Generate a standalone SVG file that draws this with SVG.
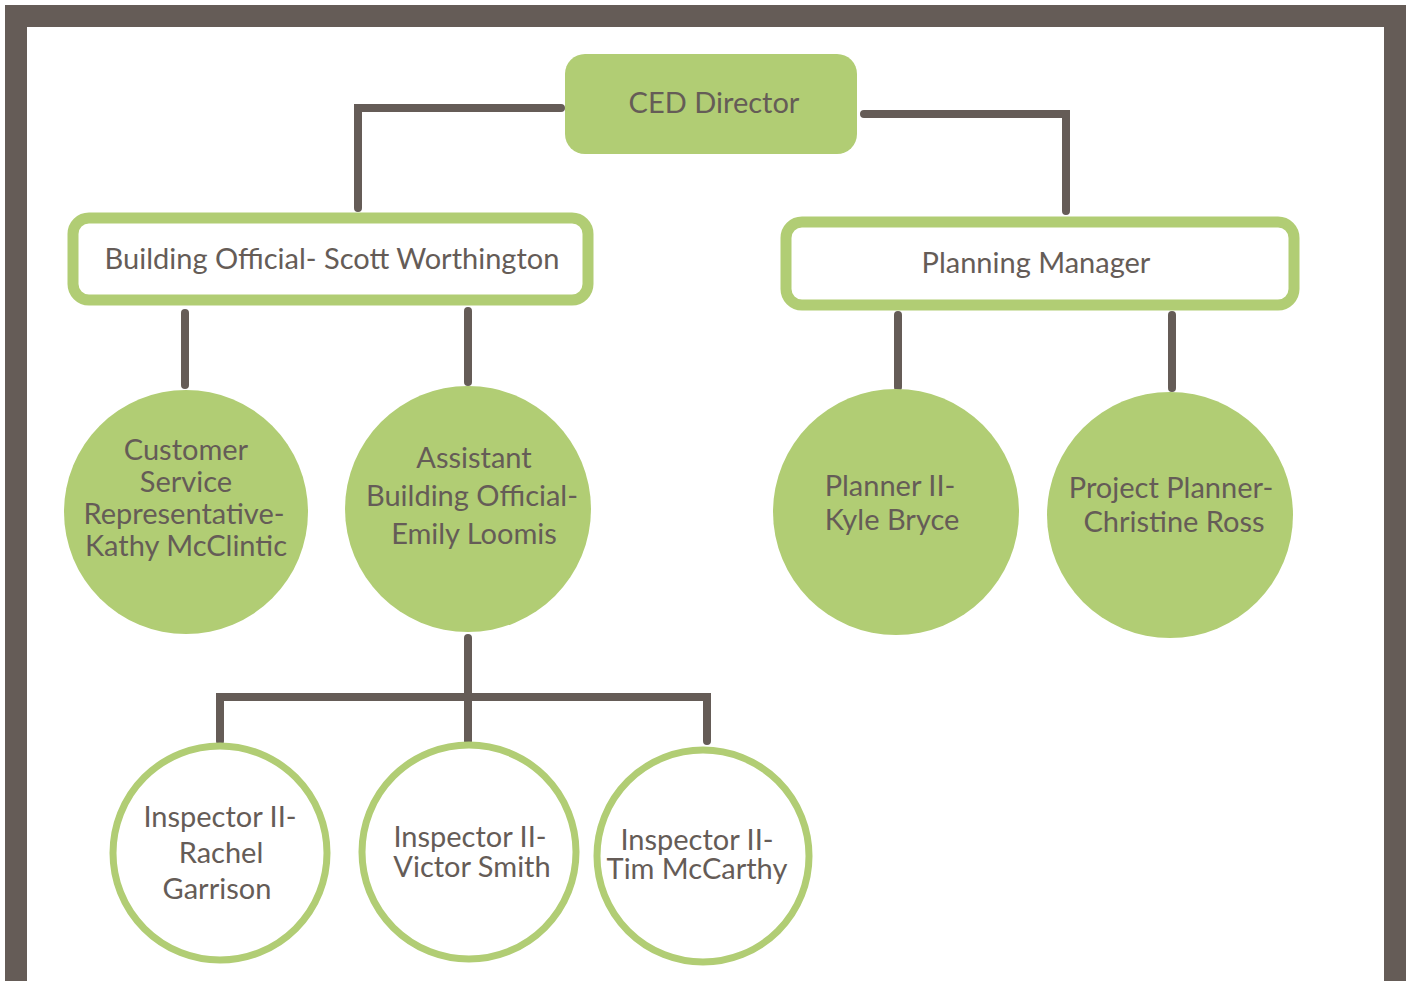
<svg xmlns="http://www.w3.org/2000/svg" width="1410" height="981" viewBox="0 0 1410 981">
<style>
.t{font-family:Lato,"Open Sans","Liberation Sans",sans-serif;font-size:29px;fill:#655c57;text-anchor:middle}
.fill{fill:#b1cd74}
.box{fill:#fff;stroke:#b1cd74;stroke-width:11}
.ring{fill:#fff;stroke:#b1cd74;stroke-width:7}
.c{fill:none;stroke:#655c57;stroke-width:8;stroke-linecap:round;stroke-linejoin:miter}
</style>
<rect x="0" y="0" width="1410" height="981" fill="#fff"/>
<rect id="frame" x="16" y="16" width="1379" height="1000" fill="none" stroke="#655c57" stroke-width="22"/>
<g id="connectors">
<polyline class="c" points="561,108 358,108 358,208"/>
<polyline class="c" points="864,114 1066,114 1066,211"/>
<line class="c" x1="185" y1="313" x2="185" y2="385"/>
<line class="c" x1="468" y1="311" x2="468" y2="382"/>
<line class="c" x1="898" y1="315" x2="898" y2="387"/>
<line class="c" x1="1172" y1="315" x2="1172" y2="388"/>
<line class="c" x1="468" y1="638" x2="468" y2="741"/>
<polyline class="c" points="220,741 220,697 707,697 707,741"/>
</g>
<g id="ced">
<rect class="fill" x="565" y="54" width="292" height="100" rx="20"/>
<text class="t" x="714" y="113">CED Director</text>
</g>
<g id="building-official">
<rect class="box" x="73" y="218" width="515" height="82" rx="16"/>
<text class="t" x="332" y="269">Building Official- Scott Worthington</text>
</g>
<g id="planning-manager">
<rect class="box" x="786" y="222" width="508" height="83" rx="16"/>
<text class="t" x="1036" y="273">Planning Manager</text>
</g>
<g id="csr">
<circle class="fill" cx="186" cy="512" r="122"/>
<text class="t" x="186" y="460">Customer</text>
<text class="t" x="186" y="492">Service</text>
<text class="t" x="184" y="524">Representative-</text>
<text class="t" x="186" y="556">Kathy McClintic</text>
</g>
<g id="assistant">
<circle class="fill" cx="468" cy="509" r="123"/>
<text class="t" x="474" y="468">Assistant</text>
<text class="t" x="472" y="506">Building Official-</text>
<text class="t" x="474" y="544">Emily Loomis</text>
</g>
<g id="planner2">
<circle class="fill" cx="896" cy="512" r="123"/>
<text class="t" x="890" y="496">Planner II-</text>
<text class="t" x="892" y="530">Kyle Bryce</text>
</g>
<g id="project-planner">
<circle class="fill" cx="1170" cy="515" r="123"/>
<text class="t" x="1171" y="498">Project Planner-</text>
<text class="t" x="1174" y="532">Christine Ross</text>
</g>
<g id="rachel">
<circle class="ring" cx="220" cy="853" r="107"/>
<text class="t" x="220" y="827">Inspector II-</text>
<text class="t" x="221" y="863">Rachel</text>
<text class="t" x="217" y="899">Garrison</text>
</g>
<g id="victor">
<circle class="ring" cx="469" cy="852" r="107"/>
<text class="t" x="470" y="847">Inspector II-</text>
<text class="t" x="472" y="877">Victor Smith</text>
</g>
<g id="tim">
<circle class="ring" cx="703" cy="856" r="106"/>
<text class="t" x="697" y="850">Inspector II-</text>
<text class="t" x="697" y="879">Tim McCarthy</text>
</g>
</svg>
